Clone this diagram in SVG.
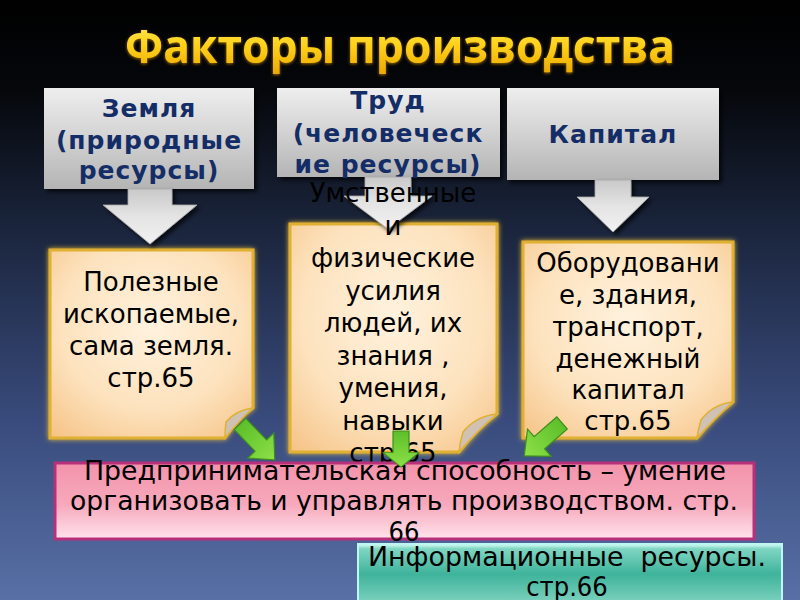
<svg xmlns="http://www.w3.org/2000/svg" width="800" height="600" viewBox="0 0 800 600">
<defs>
<linearGradient id="bg" x1="0" y1="0" x2="0" y2="1">
<stop offset="0" stop-color="#000000"/>
<stop offset="0.15" stop-color="#05070b"/>
<stop offset="0.4" stop-color="#1c2740"/>
<stop offset="0.7" stop-color="#394b7c"/>
<stop offset="1" stop-color="#5870a6"/>
</linearGradient>
<linearGradient id="gold" x1="0" y1="0" x2="0" y2="1">
<stop offset="0" stop-color="#fff06a"/>
<stop offset="0.5" stop-color="#ffd21a"/>
<stop offset="1" stop-color="#e8a400"/>
</linearGradient>
<linearGradient id="gray" x1="0" y1="0" x2="0" y2="1">
<stop offset="0" stop-color="#eeeeee"/>
<stop offset="0.5" stop-color="#d2d2d2"/>
<stop offset="1" stop-color="#b4b4b4"/>
</linearGradient>
<linearGradient id="garrow" x1="0" y1="0" x2="0" y2="1">
<stop offset="0" stop-color="#c9c9c9"/>
<stop offset="0.5" stop-color="#e4e4e4"/>
<stop offset="1" stop-color="#f2f2f2"/>
</linearGradient>
<radialGradient id="peach" cx="0.5" cy="0.4" r="0.75">
<stop offset="0" stop-color="#fff2de"/>
<stop offset="0.6" stop-color="#fde2bd"/>
<stop offset="1" stop-color="#f6c58a"/>
</radialGradient>
<linearGradient id="pink" x1="0" y1="0" x2="0" y2="1">
<stop offset="0" stop-color="#f393ab"/>
<stop offset="0.55" stop-color="#f7a9bc"/>
<stop offset="1" stop-color="#ffe3ec"/>
</linearGradient>
<linearGradient id="teal" x1="0" y1="0" x2="0" y2="1">
<stop offset="0" stop-color="#d9fff6"/>
<stop offset="0.08" stop-color="#7fd6c2"/>
<stop offset="0.5" stop-color="#3fb39b"/>
<stop offset="1" stop-color="#7fd3c0"/>
</linearGradient>
<linearGradient id="green" x1="0" y1="0" x2="1" y2="0">
<stop offset="0" stop-color="#5cbf2a"/>
<stop offset="1" stop-color="#8ee048"/>
</linearGradient>
<filter id="shadow" x="-10%" y="-10%" width="130%" height="140%">
<feDropShadow dx="3" dy="3" stdDeviation="2" flood-color="#000" flood-opacity="0.7"/>
</filter>
<filter id="glow" x="-10%" y="-10%" width="120%" height="120%">
<feDropShadow dx="0" dy="0" stdDeviation="2.5" flood-color="#ffcc33" flood-opacity="0.9"/>
</filter>
<filter id="tglow" x="-5%" y="-20%" width="110%" height="140%">
<feDropShadow dx="0" dy="1" stdDeviation="1.5" flood-color="#ffb000" flood-opacity="0.6"/>
</filter>
<path id="ga" d="M0,-8 L30,-8 L30,-18 L50,0 L30,18 L30,8 L0,8 Z"/>
</defs>
<style>
.hdr{font-family:"DejaVu Sans","Liberation Sans",sans-serif;font-weight:bold;font-size:25px;fill:#142d66;letter-spacing:1px;text-anchor:middle}
.note{font-family:"DejaVu Sans","Liberation Sans",sans-serif;font-size:26px;fill:#000;text-anchor:middle}
.cond{font-family:"DejaVu Sans Condensed","DejaVu Sans","Liberation Sans",sans-serif;font-size:27px;fill:#000;text-anchor:middle}
.box{fill:url(#gray);filter:url(#shadow)}
.arr{fill:url(#garrow);stroke:#a8a8a8;stroke-width:0.8;filter:url(#shadow)}
.nt{fill:url(#peach);stroke:#e0b030;stroke-width:3;filter:url(#glow)}
.fold{fill:#cfc2b4;stroke:#e0b030;stroke-width:1.5}
.grn{fill:url(#green);stroke:#3f8f1c;stroke-width:1.2}
</style>
<rect x="0" y="0" width="800" height="600" fill="url(#bg)"/>
<g id="title">
<text x="400" y="63" font-family="'Open Sans','DejaVu Sans',sans-serif" font-weight="bold" font-size="47" fill="url(#gold)" text-anchor="middle" textLength="550" lengthAdjust="spacingAndGlyphs" filter="url(#tglow)">Факторы производства</text>
</g>
<g id="zemlya">
<rect class="box" x="44" y="88" width="210" height="101"/>
<text class="hdr" x="149" y="117">Земля</text>
<text class="hdr" x="149" y="149">(природные</text>
<text class="hdr" x="149" y="179">ресурсы)</text>
</g>
<g id="trud">
<rect class="box" x="277" y="88" width="223" height="89"/>
<text class="hdr" x="388" y="109">Труд</text>
<text class="hdr" x="388" y="142">(человеческ</text>
<text class="hdr" x="388" y="173">ие ресурсы)</text>
</g>
<g id="kapital">
<rect class="box" x="507" y="88" width="212" height="92"/>
<text class="hdr" x="613" y="143">Капитал</text>
</g>
<g id="note1">
<path class="nt" d="M50,250 H253 V408 Q238,418 225,438 H50 Z"/>
<path class="fold" d="M253,408 Q236,410 226,422 Q225,430 225,438 Q240,420 253,408 Z"/>
</g>
<g id="note2">
<path class="nt" d="M290,224 H497 V414 Q478,428 459,452 H290 Z"/>
<path class="fold" d="M497,414 Q476,416 463,432 Q460,442 459,452 Q478,430 497,414 Z"/>
</g>
<g id="note3">
<path class="nt" d="M523,242 H733 V402 Q715,416 697,438 H523 Z"/>
<path class="fold" d="M733,402 Q713,404 701,420 Q698,430 697,438 Q715,418 733,402 Z"/>
</g>
<g id="connectors">
<path class="arr" d="M128,189 H172 V205 H197 L150,244 L103,205 H128 Z"/>
<path class="arr" d="M365,177 H411 V196 H432 L388,229 L344,196 H365 Z"/>
<path class="arr" d="M595,180 H631 V197 H649 L613,232 L577,197 H595 Z"/>
</g>
<g id="note1-text">
<text class="note" x="151" y="291">Полезные</text>
<text class="note" x="151" y="323">ископаемые,</text>
<text class="note" x="151" y="355">сама земля.</text>
<text class="note" x="151" y="387">стр.65</text>
</g>
<g id="note2-text">
<text class="note" x="393" y="202">Умственные</text>
<text class="note" x="393" y="234.5">и</text>
<text class="note" x="393" y="267">физические</text>
<text class="note" x="393" y="299.5">усилия</text>
<text class="note" x="393" y="332">людей, их</text>
<text class="note" x="393" y="364.5">знания ,</text>
<text class="note" x="393" y="397">умения,</text>
<text class="note" x="393" y="429.5">навыки</text>
<text class="note" x="393" y="462">стр.65</text>
</g>
<g id="note3-text">
<text class="note" x="628" y="272">Оборудовани</text>
<text class="note" x="628" y="304">е, здания,</text>
<text class="note" x="628" y="336">транспорт,</text>
<text class="note" x="628" y="368">денежный</text>
<text class="note" x="628" y="399">капитал</text>
<text class="note" x="628" y="430">стр.65</text>
</g>
<g id="entrepreneur">
<rect x="55" y="463" width="699" height="76" fill="url(#pink)" stroke="#b8307a" stroke-width="3"/>
<text class="cond" x="405" y="480" textLength="642" lengthAdjust="spacingAndGlyphs">Предпринимательская способность – умение</text>
<text class="cond" x="404" y="510" textLength="668" lengthAdjust="spacingAndGlyphs">организовать и управлять производством. стр.</text>
<text class="cond" x="404" y="541">66</text>
</g>
<g id="info">
<rect x="358" y="544" width="424" height="60" fill="url(#teal)" stroke="#bdf7f2" stroke-width="2"/>
<text class="cond" x="567" y="566" xml:space="preserve" textLength="398" lengthAdjust="spacingAndGlyphs">Информационные  ресурсы.</text>
<text class="cond" x="567" y="596">стр.66</text>
</g>
<g id="green-arrows">
<use href="#ga" class="grn" transform="translate(240,424) rotate(46)"/>
<use href="#ga" class="grn" transform="translate(401,431) rotate(90) scale(0.72,1)"/>
<use href="#ga" class="grn" transform="translate(562,423) rotate(139)"/>
</g>
</svg>
